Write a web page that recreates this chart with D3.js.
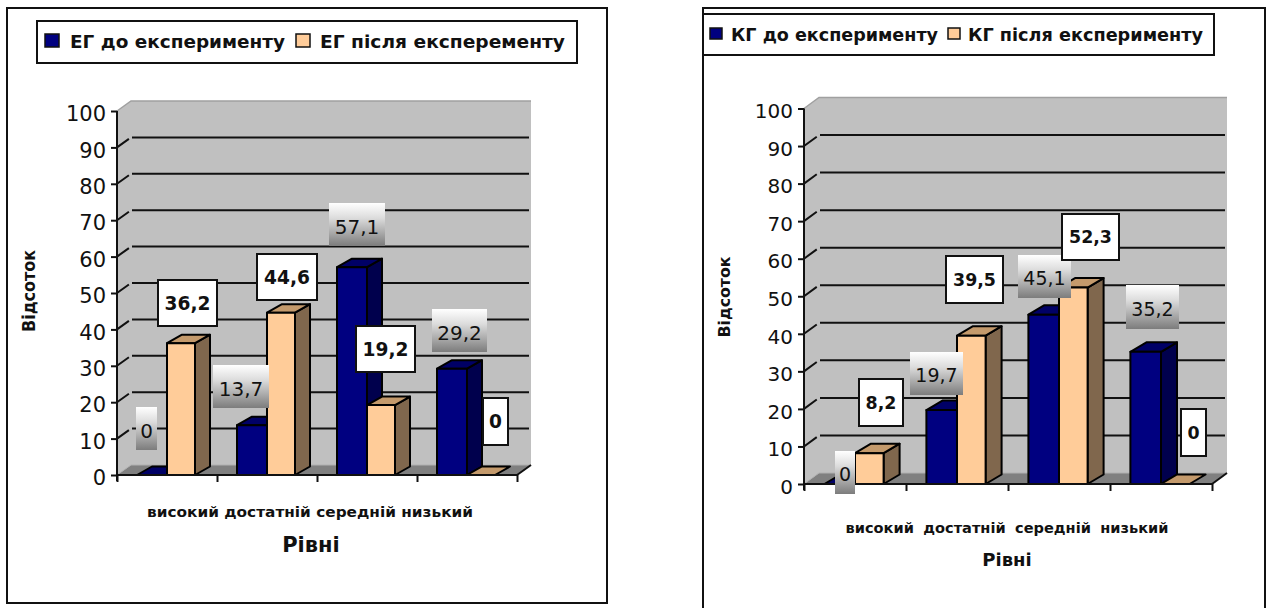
<!DOCTYPE html>
<html>
<head>
<meta charset="utf-8">
<script src="https://d3js.org/d3.v7.min.js"></script>
<style>
  html, body { margin: 0; padding: 0; background: #fff; overflow: hidden; }
  text { font-family: "DejaVu Sans", Verdana, sans-serif; fill: #111; }
</style>
</head>
<body>
<div id="charts"></div>
<script>
// values
const levels = ["високий", "достатній", "середній", "низький"];
const yTicks = [0, 10, 20, 30, 40, 50, 60, 70, 80, 90, 100];
const egBefore = [0, 13.7, 57.1, 29.2];
const egAfter = [36.2, 44.6, 19.2, 0];
const kgBefore = [0, 19.7, 45.1, 35.2];
const kgAfter = [8.2, 39.5, 52.3, 0];
const egNames = ["ЕГ до експерименту", "ЕГ після експеременту"];
const kgNames = ["КГ до експерименту", "КГ після експерименту"];
const xTitle = "Рівні";
const yTitle = "Відсоток";

const colors = [
  { front: "#000080", top: "#000066", side: "#00004d" },
  { front: "#ffcc99", top: "#c49a6c", side: "#80674d" }
];

// layout of the two charts, the label boxes were placed by hand in the original
const leftLayout = {
  frame: [7, 8, 607, 603],
  legend: { box: [37, 21, 577, 63], base: 48, swatch: [45, 296], swatchY: 34, swatchS: 14, text: [[70, 215], [320, 245]], size: 18.5 },
  x0: 117, x1: 517, y0: 475, y100: 111, dx: 14, dy: 10,
  tickSize: 21, labelSize: 18.6, plainSize: 20,
  cats: { x: 310, y: 517, w: 326, size: 14, gap: 0 },
  xT: { x: 311, y: 552, size: 21 },
  yT: { x: 35, y: 291, w: 82, size: 17 },
  before: [[136, 407, 157, 450], [213, 365, 269, 408], [329, 203, 385, 246], [432, 309, 487, 352]],
  after: [[158, 280, 217, 326], [257, 254, 317, 300], [356, 326, 415, 372], [483, 398, 508, 445]]
};
const rightLayout = {
  frame: [703, 8, 1265, 640],
  legend: { box: [703, 14, 1214, 55], base: 41, swatch: [710, 948], swatchY: 28, swatchS: 12, text: [[731, 207], [968, 235]], size: 17.5 },
  x0: 804, x1: 1212, y0: 484, y100: 108.5, dx: 15, dy: 11,
  tickSize: 20, labelSize: 17.4, plainSize: 19,
  cats: { x: 1007, y: 533, w: 323, size: 13.5, gap: 4 },
  xT: { x: 1007, y: 566, size: 18 },
  yT: { x: 730, y: 297, w: 81, size: 16 },
  before: [[835, 451, 855, 494], [910, 352, 963, 395], [1018, 255, 1071, 298], [1126, 285, 1179, 329]],
  after: [[859, 379, 903, 426], [946, 256, 1003, 303], [1062, 214, 1119, 260], [1181, 409, 1206, 456]]
};

const svg = d3.select("#charts").append("svg")
  .attr("width", 1270)
  .attr("height", 608)
  .style("display", "block");

const grad = svg.append("defs").append("linearGradient")
  .attr("id", "labelFade")
  .attr("x1", 0).attr("y1", 0).attr("x2", 0).attr("y2", 1);
grad.append("stop").attr("offset", "0%").attr("stop-color", "#fff");
grad.append("stop").attr("offset", "35%").attr("stop-color", "#dcdcdc");
grad.append("stop").attr("offset", "100%").attr("stop-color", "#7c7c7c");

function poly(pts) {
  return "M" + pts.map(p => p.join(",")).join("L") + "Z";
}

function drawChart(cfg, before, after, names) {
  const g = svg.append("g");
  const { x0, x1, y0, y100, dx, dy } = cfg;

  const y = d3.scaleLinear().domain([0, 100]).range([y0, y100]);
  const x = d3.scaleBand().domain(levels).range([x0, x1]);
  const inner = d3.scaleBand().domain([0, 1]).range([x.bandwidth() * 0.2, x.bandwidth() * 0.8]);

  g.append("rect")
    .attr("x", cfg.frame[0]).attr("y", cfg.frame[1])
    .attr("width", cfg.frame[2] - cfg.frame[0])
    .attr("height", cfg.frame[3] - cfg.frame[1])
    .attr("fill", "#fff").attr("stroke", "#111").attr("stroke-width", 2);

  // walls and floor
  g.append("path")
    .attr("d", poly([[x0, y0], [x0, y100], [x0 + dx, y100 - dy], [x1 + dx, y100 - dy], [x1 + dx, y0 - dy], [x0 + dx, y0 - dy]]))
    .attr("fill", "#c0c0c0");
  g.append("path")
    .attr("d", `M${x0},${y100}L${x0 + dx},${y100 - dy}H${x1 + dx}`)
    .attr("fill", "none").attr("stroke", "#a0a0a0").attr("stroke-width", 1.5);
  g.append("path")
    .attr("d", poly([[x0, y0], [x0 + dx, y0 - dy], [x1 + dx, y0 - dy], [x1, y0]]))
    .attr("fill", "#808080");
  g.append("path")
    .attr("d", `M${x0},${y0}L${x0 + dx},${y0 - dy}H${x1 + dx}`)
    .attr("fill", "none").attr("stroke", "#b0b0b0").attr("stroke-width", 1);

  // gridlines with their slanted part on the side wall
  const inside = yTicks.filter(t => t > 0 && t < 100);
  g.append("g").selectAll("path").data(inside).join("path")
    .attr("d", t => `M${x0},${y(t)}L${x0 + dx * 0.85},${y(t) - dy * 0.85}M${x0 + dx + 1},${y(t) - dy}H${x1 + dx - 2}`)
    .attr("fill", "none").attr("stroke", "#111").attr("stroke-width", 2);

  // bars, one group per level
  const groups = g.append("g").selectAll("g").data(levels).join("g")
    .attr("transform", d => `translate(${x(d)},0)`);
  const bars = groups.selectAll("g")
    .data((d, i) => [before[i], after[i]].map((v, s) => ({ v, s })))
    .join("g");
  // the second bar of a pair is a little narrower in the original
  const bw = s => inner.bandwidth() - (s ? 2 : 0);
  const ddx = dx + 1, ddy = dy - 1.5;
  bars.filter(d => d.v > 0).append("path")
    .attr("d", d => {
      const l = inner(d.s) + bw(d.s);
      return poly([[l, y(d.v)], [l + ddx, y(d.v) - ddy], [l + ddx, y0 - ddy], [l, y0]]);
    })
    .attr("fill", d => colors[d.s].side);
  bars.append("path")
    .attr("d", d => {
      const l = inner(d.s);
      return poly([[l, y(d.v)], [l + ddx, y(d.v) - ddy], [l + bw(d.s) + ddx, y(d.v) - ddy], [l + bw(d.s), y(d.v)]]);
    })
    .attr("fill", d => colors[d.s].top);
  bars.filter(d => d.v > 0).append("rect")
    .attr("x", d => inner(d.s))
    .attr("y", d => y(d.v))
    .attr("width", d => bw(d.s))
    .attr("height", d => y0 - y(d.v))
    .attr("fill", d => colors[d.s].front);
  bars.selectAll("path,rect")
    .attr("stroke", "#000").attr("stroke-width", 2).attr("stroke-linejoin", "round");

  // axes
  const yAxis = g.append("g")
    .attr("transform", `translate(${x0},0)`)
    .call(d3.axisLeft(y).tickValues(yTicks).tickSize(6).tickPadding(5));
  yAxis.selectAll("text").style("font-size", cfg.tickSize + "px").attr("dy", "0.46em");
  const xAxis = g.append("g")
    .attr("transform", `translate(0,${y0})`)
    .call(d3.axisBottom(d3.scaleLinear().domain([0, 4]).range([x0, x1])).ticks(4).tickSize(7).tickFormat(""));
  g.selectAll(".domain, .tick line").attr("stroke", "#111").attr("stroke-width", 2);
  yAxis.select(".domain").attr("d", `M0,${y0 + 6}V${y100}`);
  xAxis.select(".domain").attr("d", `M${x0},0H${x1}`);
  g.append("path")
    .attr("d", `M${x1},${y0}L${x1 + dx},${y0 - dy}`)
    .attr("stroke", "#111").attr("stroke-width", 2);

  // axis texts
  g.append("text")
    .attr("x", cfg.cats.x).attr("y", cfg.cats.y)
    .attr("text-anchor", "middle")
    .attr("textLength", cfg.cats.w).attr("lengthAdjust", "spacingAndGlyphs")
    .attr("word-spacing", cfg.cats.gap)
    .style("font-size", cfg.cats.size + "px").style("font-weight", "bold")
    .text(levels.join(" "));
  g.append("text")
    .attr("x", cfg.xT.x).attr("y", cfg.xT.y)
    .attr("text-anchor", "middle")
    .style("font-size", cfg.xT.size + "px").style("font-weight", "bold")
    .text(xTitle);
  g.append("text")
    .attr("transform", `translate(${cfg.yT.x},${cfg.yT.y}) rotate(-90)`)
    .attr("text-anchor", "middle")
    .attr("textLength", cfg.yT.w).attr("lengthAdjust", "spacingAndGlyphs")
    .style("font-size", cfg.yT.size + "px").style("font-weight", "bold")
    .text(yTitle);

  // legend
  const lg = cfg.legend;
  g.append("rect")
    .attr("x", lg.box[0]).attr("y", lg.box[1])
    .attr("width", lg.box[2] - lg.box[0]).attr("height", lg.box[3] - lg.box[1])
    .attr("fill", "#fff").attr("stroke", "#111").attr("stroke-width", 2);
  names.forEach((name, i) => {
    g.append("rect")
      .attr("x", lg.swatch[i]).attr("y", lg.swatchY)
      .attr("width", lg.swatchS).attr("height", lg.swatchS - 1)
      .attr("fill", colors[i].front).attr("stroke", "#111").attr("stroke-width", 1.5);
    g.append("text")
      .attr("x", lg.text[i][0]).attr("y", lg.base)
      .attr("textLength", lg.text[i][1]).attr("lengthAdjust", "spacingAndGlyphs")
      .style("font-size", lg.size + "px").style("font-weight", "bold")
      .text(name);
  });

  // value labels
  const fmt = v => String(v).replace(".", ",");
  const labels = [];
  before.forEach((v, i) => labels.push({ v, box: cfg.before[i], plain: true }));
  after.forEach((v, i) => labels.push({ v, box: cfg.after[i], plain: false }));
  const lab = g.append("g").selectAll("g").data(labels).join("g");
  lab.append("rect")
    .attr("x", d => d.box[0]).attr("y", d => d.box[1])
    .attr("width", d => d.box[2] - d.box[0]).attr("height", d => d.box[3] - d.box[1])
    .attr("fill", d => d.plain ? "url(#labelFade)" : "#fff")
    .attr("stroke", d => d.plain ? "none" : "#111")
    .attr("stroke-width", 2);
  lab.append("text")
    .attr("x", d => (d.box[0] + d.box[2]) / 2)
    .attr("y", d => (d.box[1] + d.box[3]) / 2 + (d.plain ? 2 : 0))
    .attr("text-anchor", "middle")
    .attr("dy", "0.36em")
    .style("font-size", d => (d.plain ? cfg.plainSize : cfg.labelSize) + "px")
    .style("font-weight", d => d.plain ? "normal" : "bold")
    .text(d => fmt(d.v));
}

drawChart(leftLayout, egBefore, egAfter, egNames);
drawChart(rightLayout, kgBefore, kgAfter, kgNames);
</script>
</body>
</html>
